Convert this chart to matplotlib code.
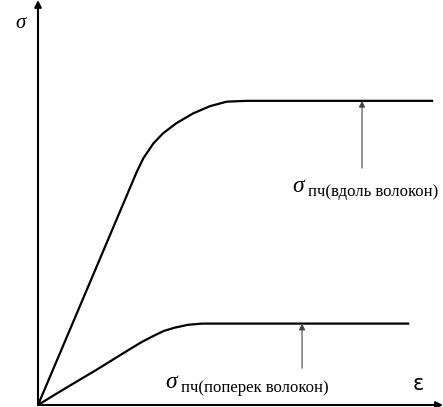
import matplotlib.pyplot as plt

# strain / stress in arbitrary units (0..100)
eps_along = [0, 24.4, 26.0, 28.5, 30.9, 34.2, 38.3, 42.5, 46.6, 51.5, 97.3]
sig_along = [0, 57.6, 60.9, 64.6, 67.1, 69.6, 72.0, 73.8, 74.9, 75.1, 75.1]

eps_across = [0, 4.4, 9.4, 14.3, 19.3, 22.7, 25.7, 28.4, 31.1, 33.8, 37.0, 40.5, 91.4]
sig_across = [0, 2.7, 5.7, 8.6, 11.7, 13.8, 15.6, 17.0, 18.3, 19.1, 19.8, 20.1, 20.1]

# arrow markers pointing at the plateau levels: (x, y_from, y_to)
arrow_along = (80.0, 58.5, 75.1)
arrow_across = (65.2, 9.1, 20.1)

label_sigma = "σ"
label_eps = "ε"
sub_along = "пч(вдоль волокон)"
sub_across = "пч(поперек волокон)"

fig = plt.figure(figsize=(4.43, 4.07), dpi=100)
ax = fig.add_axes([38 / 443, 2 / 407, 405 / 443, 405 / 407])
ax.set_xlim(0, 100)
ax.set_ylim(0, 100)
ax.axis("off")

# axes with arrows
ax.annotate("", xy=(0, 100), xytext=(0, 0),
            arrowprops=dict(arrowstyle="-|>", lw=1.5, color="black", mutation_scale=10,
                            shrinkA=0, shrinkB=0), annotation_clip=False)
ax.annotate("", xy=(100, 0), xytext=(0, 0),
            arrowprops=dict(arrowstyle="-|>", lw=1.5, color="black", mutation_scale=10,
                            shrinkA=0, shrinkB=0), annotation_clip=False)

# curves
ax.plot(eps_along, sig_along, color="black", lw=1.6, solid_joinstyle="round")
ax.plot(eps_across, sig_across, color="black", lw=1.6, solid_joinstyle="round")

# plateau arrows
for x, y0, y1 in [arrow_along, arrow_across]:
    ax.annotate("", xy=(x, y1), xytext=(x, y0),
                arrowprops=dict(arrowstyle="-|>", lw=0.8, color="#444444",
                                mutation_scale=9, shrinkA=0, shrinkB=0))

serif = ["Liberation Serif", "DejaVu Serif"]

# axis labels
fig.text(15 / 443, 1 - 24 / 407, label_sigma, family=serif, style="italic",
         fontsize=15, ha="left", va="center")
fig.text(413 / 443, 1 - 384 / 407, label_eps, family=["DejaVu Sans"],
         fontsize=15, ha="left", va="center")

# plateau labels: sigma with a subscript
def sigma_label(x_px, y_px, sub):
    fig.text(x_px / 443, 1 - y_px / 407, label_sigma, family=serif, style="italic",
             fontsize=17, ha="left", va="baseline")
    fig.text((x_px + 16) / 443, 1 - (y_px + 4) / 407, sub, family=serif,
             fontsize=12, ha="left", va="baseline")

sigma_label(292, 192, sub_along)
sigma_label(165, 388, sub_across)

fig.savefig("out.png", dpi=100)
